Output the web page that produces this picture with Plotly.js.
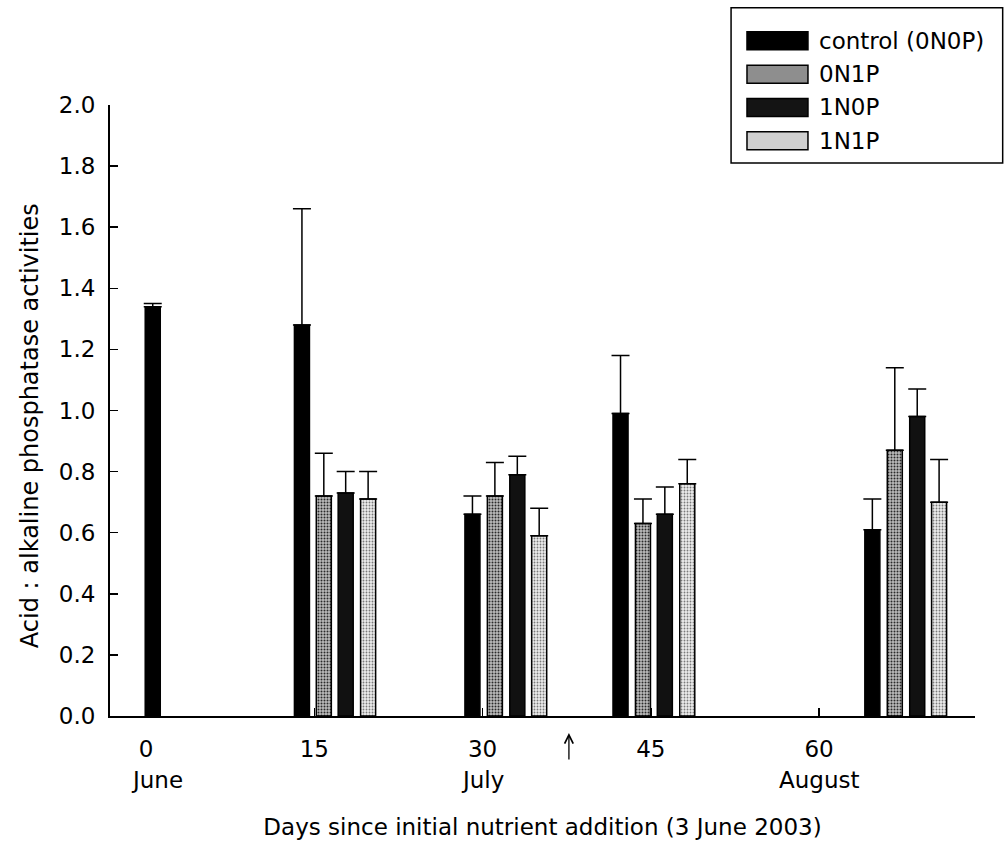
<!DOCTYPE html>
<html>
<head>
<meta charset="utf-8">
<script src="https://cdn.plot.ly/plotly-3.0.1.min.js"></script>
<style>
  html, body { margin: 0; padding: 0; background: #fff; }
  #chart { width: 1004px; height: 841px; }
</style>
</head>
<body>
<div id="chart"></div>
<script>
// Treatment names
const seriesNames = ['control (0N0P)', '0N1P', '1N0P', '1N1P'];

// Sampling day of each bar (days since 3 June 2003)
const daysControl = [0.6, 13.9, 29.1, 42.3, 64.75];
const days0N1P = [15.85, 31.1, 44.3, 66.75];
const days1N0P = [17.8, 33.1, 46.25, 68.75];
const days1N1P = [19.8, 35.05, 48.25, 70.7];

// Acid : alkaline phosphatase activity ratios (means)
const valControl = [1.34, 1.28, 0.66, 0.99, 0.61];
const val0N1P = [0.72, 0.72, 0.63, 0.87];
const val1N0P = [0.73, 0.79, 0.66, 0.98];
const val1N1P = [0.71, 0.59, 0.76, 0.70];

// Upper error (SE) for each mean
const errControl = [0.01, 0.38, 0.06, 0.19, 0.10];
const err0N1P = [0.14, 0.11, 0.08, 0.27];
const err1N0P = [0.07, 0.06, 0.09, 0.09];
const err1N1P = [0.09, 0.09, 0.08, 0.14];

// Axis ticks and month labels
const xTickVals = [0, 15, 30, 45, 60];
const xTickText = ['0', '15', '30', '45', '60'];
const monthNames = ['June', 'July', 'August'];
const monthDays = [1.0, 30, 60];
const nutrientArrowDay = 37.7;

const xTitle = 'Days since initial nutrient addition (3 June 2003)';
const yTitle = 'Acid : alkaline phosphatase activities';

const FONT = '"DejaVu Sans", Verdana, sans-serif';
const FS = 23;

const styles = [
  { color: '#000000' },
  { color: '#9a9a9a', pattern: { shape: '.', fgcolor: '#2a2a2a', bgcolor: '#bdbdbd', size: 3, solidity: 0.35 } },
  { color: '#111111' },
  { color: '#d8d8d8', pattern: { shape: '.', fgcolor: '#7a7a7a', bgcolor: '#ececec', size: 3, solidity: 0.3 } }
];
const swatchFill = ['#000000', '#8e8e8e', '#141414', '#d0d0d0'];

const xs = [daysControl, days0N1P, days1N0P, days1N1P];
const ys = [valControl, val0N1P, val1N0P, val1N1P];
const es = [errControl, err0N1P, err1N0P, err1N1P];

const traces = seriesNames.map((name, i) => {
  const marker = { color: styles[i].color, line: { color: '#000', width: 1.5 } };
  if (styles[i].pattern) marker.pattern = Object.assign({ fillmode: 'replace' }, styles[i].pattern);
  return {
    type: 'bar',
    name: name,
    x: xs[i],
    y: ys[i],
    width: 1.34,
    marker: marker,
    error_y: {
      type: 'data',
      symmetric: false,
      array: es[i],
      arrayminus: es[i].map(() => 0),
      color: '#000',
      thickness: 1.5,
      width: 9
    },
    showlegend: false
  };
});

// Legend box drawn in paper coordinates
const shapes = [{
  type: 'rect', xref: 'paper', yref: 'paper',
  x0: 0.718, x1: 1.032, y0: 0.905, y1: 1.159,
  line: { color: '#000', width: 1.5 }, fillcolor: 'rgba(0,0,0,0)'
}];
const annotations = [];
const rowTop = 1.105, rowStep = 0.0545, swH = 0.0147;
seriesNames.forEach((name, i) => {
  const yc = rowTop - i * rowStep;
  shapes.push({
    type: 'rect', xref: 'paper', yref: 'paper',
    x0: 0.7364, x1: 0.8069, y0: yc - swH, y1: yc + swH,
    fillcolor: swatchFill[i], line: { color: '#000', width: 1.5 }
  });
  annotations.push({
    xref: 'paper', yref: 'paper', x: 0.8173, y: yc,
    xanchor: 'left', yanchor: 'middle', showarrow: false,
    text: name, font: { family: FONT, size: FS, color: '#000' }
  });
});

monthNames.forEach((m, i) => {
  annotations.push({
    xref: 'x', yref: 'paper', x: monthDays[i], y: -0.105,
    xanchor: 'center', yanchor: 'middle', showarrow: false,
    text: m, font: { family: FONT, size: FS, color: '#000' }
  });
});

// Y-axis title, set a little below the plot's mid-height
annotations.push({
  xref: 'paper', yref: 'paper', x: -0.0925, y: 0.476,
  xanchor: 'center', yanchor: 'middle', textangle: -90, showarrow: false,
  text: yTitle, font: { family: FONT, size: 24, color: '#000' }
});

// Arrow marking the second nutrient addition
annotations.push({
  xref: 'x', yref: 'paper', x: nutrientArrowDay, y: -0.028,
  text: '', showarrow: true, ax: 0, ay: 28,
  arrowhead: 5, arrowsize: 1.3, arrowwidth: 1.3, arrowcolor: '#000'
});

const layout = {
  width: 1004, height: 841,
  margin: { l: 110, r: 29, t: 105, b: 125 },
  paper_bgcolor: '#fff', plot_bgcolor: '#fff',
  font: { family: FONT, size: FS, color: '#000' },
  barmode: 'overlay',
  showlegend: false,
  xaxis: {
    range: [-3.21, 73.9],
    tickvals: xTickVals, ticktext: xTickText,
    ticks: 'inside', ticklen: 8, tickwidth: 1.5, tickcolor: '#000',
    ticklabelstandoff: 11,
    showline: true, linewidth: 2, linecolor: '#000',
    showgrid: false, zeroline: false,
    tickfont: { family: FONT, size: FS },
    title: { text: xTitle, font: { family: FONT, size: FS }, standoff: 58 },
    automargin: false
  },
  yaxis: {
    range: [0, 2], dtick: 0.2, tick0: 0, tickformat: '.1f',
    ticks: 'inside', ticklen: 8, tickwidth: 1.5, tickcolor: '#000',
    ticklabelstandoff: 8,
    showline: true, linewidth: 2, linecolor: '#000',
    showgrid: false, zeroline: false,
    tickfont: { family: FONT, size: FS },
    automargin: false
  },
  shapes: shapes,
  annotations: annotations
};

Plotly.newPlot('chart', traces, layout, { displayModeBar: false, staticPlot: true });
</script>
</body>
</html>
